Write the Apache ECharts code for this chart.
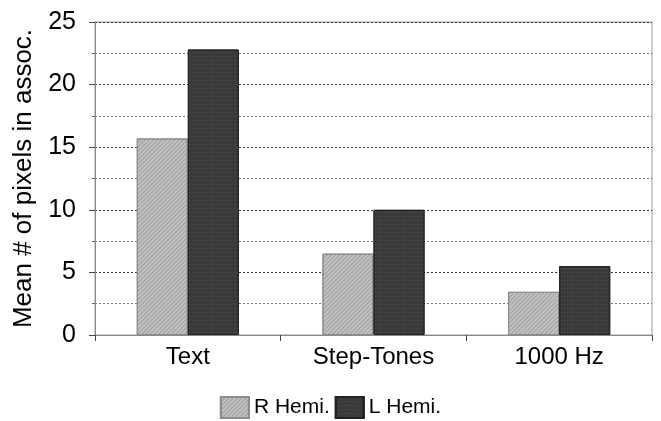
<!DOCTYPE html>
<html><head><meta charset="utf-8">
<script src="https://cdn.jsdelivr.net/npm/echarts@6/dist/echarts.min.js"></script>
<style>html,body{margin:0;padding:0;background:#fff}#c{width:661px;height:421px}</style>
</head><body><div id="c"></div>
<script>
var categories = ['Text', 'Step-Tones', '1000 Hz'];
var rHemi = [15.7, 6.5, 3.45];
var lHemi = [22.8, 10.0, 5.5];
var seriesNames = ['R Hemi.', 'L Hemi.'];
var yName = 'Mean # of pixels in assoc.';

var chart = echarts.init(document.getElementById('c'), null, {renderer: 'canvas'});
var font = 'Liberation Sans, Arial, sans-serif';
chart.setOption({
  animation: false,
  backgroundColor: '#fff',
  grid: {left: 95, right: 9, top: 22, bottom: 86, show: true, borderColor: '#9a9a9a', borderWidth: 1},
  legend: {
    top: 391, left: 'center', itemWidth: 28, itemHeight: 21, itemGap: 5, icon: 'rect',
    textStyle: {fontFamily: font, fontSize: 21, color: '#000'},
    data: seriesNames
  },
  xAxis: {
    type: 'category', data: categories,
    axisLine: {lineStyle: {color: '#8a8a8a', width: 1}},
    axisTick: {show: true, inside: false, length: 6, lineStyle: {color: '#444'}},
    axisLabel: {fontFamily: font, fontSize: 24, color: '#000', margin: 10}
  },
  yAxis: {
    type: 'value', min: 0, max: 25, interval: 5,
    name: yName, nameLocation: 'middle', nameGap: 51,
    nameTextStyle: {fontFamily: font, fontSize: 26, color: '#000'},
    axisLine: {show: true, lineStyle: {color: '#8a8a8a'}},
    axisTick: {show: true, length: 6, lineStyle: {color: '#444'}},
    axisLabel: {fontFamily: font, fontSize: 25, color: '#000', margin: 19},
    splitLine: {show: true, lineStyle: {color: '#333', type: [2, 2], width: 1}},
    minorTick: {show: true, splitNumber: 2, length: 3, lineStyle: {color: '#666'}},
    minorSplitLine: {show: true, lineStyle: {color: '#777', type: [2, 2], width: 1}}
  },
  series: [
    {name: seriesNames[0], type: 'bar', data: rHemi, barGap: '0%', barCategoryGap: '45%',
     itemStyle: {color: '#c2c2c2', borderColor: '#8c8c8c', borderWidth: 1,
       decal: {symbol: 'rect', symbolSize: 1, color: 'rgba(90,90,90,0.35)', dashArrayX: [1, 0], dashArrayY: [1, 2], rotation: -Math.PI / 4}}},
    {name: seriesNames[1], type: 'bar', data: lHemi,
     itemStyle: {color: '#3a3a3a', borderColor: '#222', borderWidth: 1,
       decal: {symbol: 'rect', symbolSize: 1, color: 'rgba(120,120,120,0.35)', dashArrayX: [1, 2], dashArrayY: [1, 3], rotation: 0}}}
  ]
});
</script></body></html>
